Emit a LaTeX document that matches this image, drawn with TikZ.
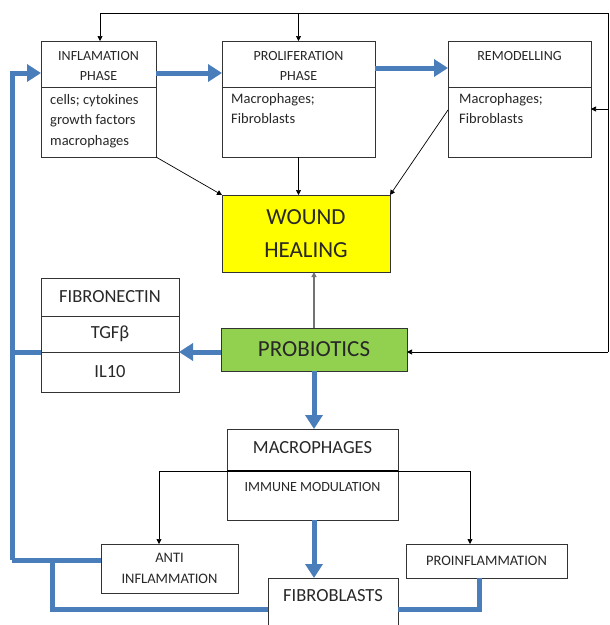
\documentclass[tikz,border=0pt]{standalone}
\usepackage{fontspec}
\setmainfont{Carlito}
\usetikzlibrary{arrows.meta,calc}
\definecolor{bl}{RGB}{74,126,187}
\definecolor{yl}{RGB}{255,255,0}
\definecolor{gr}{RGB}{146,208,80}
\definecolor{tx}{RGB}{40,40,40}
\begin{document}
\begin{tikzpicture}[x=1pt,y=-1pt,
  box/.style={draw=black!80, line width=0.9pt, inner sep=0pt, outer sep=0pt, anchor=north west, text=tx, align=center},
  lbl/.style={inner sep=0pt, text=tx, align=center},
  thinarrow/.style={draw=black, line width=0.7pt, -{Triangle[length=5pt,width=5pt]}},
  thinline/.style={draw=black, line width=0.7pt},
  bluearrow/.style={draw=bl, line width=5pt, -{Triangle[length=14pt,width=17pt]}},
  blueline/.style={draw=bl, line width=5pt},
  fsmall/.style={font=\fontsize{14}{20}\selectfont},
  fbody/.style={font=\fontsize{14.5}{20.5}\selectfont},
  fmid/.style={font=\fontsize{18.5}{22}\selectfont},
  fbig/.style={font=\fontsize{23}{33}\selectfont}]
\fill[white] (0,0) rectangle (610,625);
\clip (0,0) rectangle (610,625);

% boxes
\node[box, minimum width=115pt, minimum height=116pt] (infl) at (41,41) {};
\node[box, minimum width=153pt, minimum height=116pt] (prol) at (222,41) {};
\node[box, minimum width=143pt, minimum height=116pt] (rem) at (448,41) {};
\node[box, fill=yl, minimum width=168pt, minimum height=77pt, fbig] (wh) at (222,195) {WOUND\\HEALING};
\node[box, minimum width=138pt, minimum height=114pt] (fib) at (41,278) {};
\node[box, fill=gr, minimum width=186pt, minimum height=43pt, fbig] (prob) at (221,328) {PROBIOTICS};
\node[box, minimum width=171pt, minimum height=91pt] (mac) at (227,429) {};
\node[box, minimum width=137pt, minimum height=49pt, fbody] (anti) at (101,544) {ANTI\\INFLAMMATION};
\node[box, minimum width=161pt, minimum height=34pt, fbody] (proinf) at (406,544) {PROINFLAMMATION};
\node[box, minimum width=130pt, minimum height=60pt] (fibro) at (268,578) {};

% dividers
\draw[black!80, line width=0.9pt] (infl.west |- 0,87) -- (infl.east |- 0,87);
\draw[black!80, line width=0.9pt] (prol.west |- 0,87) -- (prol.east |- 0,87);
\draw[black!80, line width=0.9pt] (rem.west |- 0,87) -- (rem.east |- 0,87);
\draw[black!80, line width=0.9pt] (fib.west |- 0,316) -- (fib.east |- 0,316);
\draw[black!80, line width=0.9pt] (fib.west |- 0,352) -- (fib.east |- 0,352);
\draw[black, line width=1.2pt] (mac.west |- 0,471) -- (mac.east |- 0,471);

% texts
\node[lbl, fsmall] (tinfl) at (98.5,66) {INFLAMATION\\PHASE};
\node[lbl, fsmall] (tprol) at (298.5,66) {PROLIFERATION\\PHASE};
\node[lbl, fsmall] (trem) at (519.5,56) {REMODELLING};
\node[lbl, fbody, align=left, anchor=north west] (binfl) at (50,94) {cells; cytokines\\growth factors\\macrophages};
\node[lbl, fbody, align=left, anchor=north west] (bprol) at (231,93) {Macrophages;\\Fibroblasts};
\node[lbl, fbody, align=left, anchor=north west] (brem) at (459,93) {Macrophages;\\Fibroblasts};
\node[lbl, fmid] (tfib1) at (110,297) {FIBRONECTIN};
\node[lbl, fmid] (tfib2) at (110,334) {TGFβ};
\node[lbl, fmid] (tfib3) at (110,372) {IL10};
\node[lbl, fmid] (tmac) at (312.5,448) {MACROPHAGES};
\node[lbl, fsmall] (tmac2) at (312.5,487) {IMMUNE MODULATION};
\node[lbl, fmid] (tfibro) at (333,596) {FIBROBLASTS};

% coordinates
\coordinate (t1) at (100,13);
\coordinate (t2) at (608,13);
\coordinate (t3) at (608,352);
\coordinate (r1) at (608,109);
\coordinate (r2) at (448,110);
\coordinate (m1) at (159,471);
\coordinate (m2) at (470,471);
\coordinate (cTop) at (12,73);
\coordinate (cB) at (12,560);
\coordinate (cF) at (12,352);
\coordinate (cA) at (400,68);
\coordinate (cC) at (52,609);
\coordinate (cD) at (479,609);

% thin connectors
\draw[thinline] (t3) -- (t2) -- (t1);
\draw[thinarrow] (t1) -- (t1 |- infl.north);
\draw[thinarrow] (prol.north |- t1) -- (prol.north);
\draw[thinarrow] (r1) -- (r1 -| rem.east);
\draw[thinarrow] (t3) -- (t3 -| prob.east);
\draw[thinarrow] (infl.south east) -- (wh.north west);
\draw[thinarrow] (prol.south) -- (prol.south |- wh.north);
\draw[thinarrow] (r2) -- (wh.north east);
\draw[draw=black!55, line width=1.1pt, -{Triangle[length=5pt,width=5pt]}] (prob.north) -- (prob.north |- wh.south);
\draw[thinarrow] (m1 -| mac.west) -- (m1) -- (m1 |- anti.north);
\draw[thinarrow] (m2 -| mac.east) -- (m2) -- (m2 |- proinf.north);

% blue connectors
\draw[bluearrow] (cB) -- (cTop) -- (cTop -| infl.west);
\draw[blueline] (cB) -- (cB -| anti.west);
\draw[blueline] (cF) -- (cF -| fib.west);
\draw[bluearrow] (cF -| prob.west) -- (cF -| fib.east);
\draw[bluearrow] (cTop -| infl.east) -- (cTop -| prol.west);
\draw[bluearrow] (cA -| prol.east) -- (cA -| rem.west);
\draw[bluearrow] (prob.south) -- (prob.south |- mac.north);
\draw[bluearrow] (prob.south |- mac.south) -- (prob.south |- fibro.north);
\draw[blueline] (cC |- cB) -- (cC) -- (cC -| fibro.west);
\draw[blueline] (cD |- proinf.south) -- (cD) -- (cD -| fibro.east);
\end{tikzpicture}
\end{document}
